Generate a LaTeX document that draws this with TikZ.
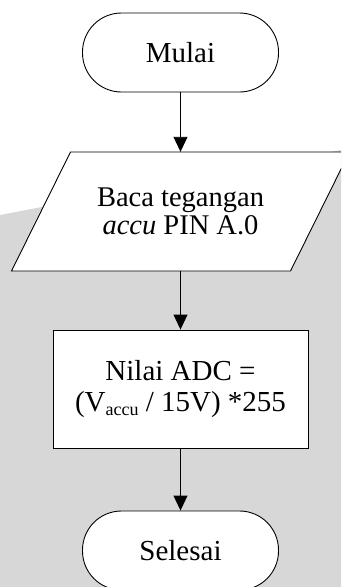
\documentclass[tikz,border=0pt]{standalone}
\usepackage{fontspec}
\setmainfont{Liberation Serif}
\usetikzlibrary{arrows.meta,calc}
\definecolor{wmgray}{HTML}{D7D7D7}
\begin{document}
\begin{tikzpicture}[x=1pt,y=-1pt,
  box/.style={draw=black, line width=0.9pt, fill=white, align=center,
    font=\fontsize{29}{28}\selectfont, inner sep=0pt},
  term/.style={box, rounded corners=39pt, minimum width=196pt, minimum height=79pt},
  txt/.style={align=center, font=\fontsize{28.5}{27.5}\selectfont, inner sep=0pt},
  flow/.style={-{Triangle[length=15pt,width=14pt]}, line width=0.9pt}]
\useasboundingbox (0,0) rectangle (341,587);
\clip (0,0) rectangle (341,587);
\fill[wmgray] (0,215) -- (341,150) -- (341,587) -- (0,587) -- cycle;
% start
\node[term] (start) at (180.5,52.5) {Mulai};
% input / output parallelogram
\coordinate (rc) at (180.5,211.5);
\draw[line width=0.9pt, fill=white]
  ($(rc)+(-169,59.5)$) -- ($(rc)+(110,59.5)$) -- ($(rc)+(169,-59.5)$)
  -- ($(rc)+(-110,-59.5)$) -- cycle;
\node[txt, minimum width=279pt, minimum height=119pt] (read) at (rc)
  {Baca tegangan\\ \textit{accu} PIN A.0};
% process
\node[box, minimum width=255pt, minimum height=118pt] (adc) at (180.5,389)
  {Nilai ADC =\\[3pt] (V\raisebox{-4pt}{\fontsize{18}{18}\selectfont accu} / 15V) *255};
% end
\node[term] (stop) at (180.5,550.5) {Selesai};
% connectors
\draw[flow] (start) -- (read);
\draw[flow] (read) -- (adc);
\draw[flow] (adc) -- (stop);
\end{tikzpicture}
\end{document}
